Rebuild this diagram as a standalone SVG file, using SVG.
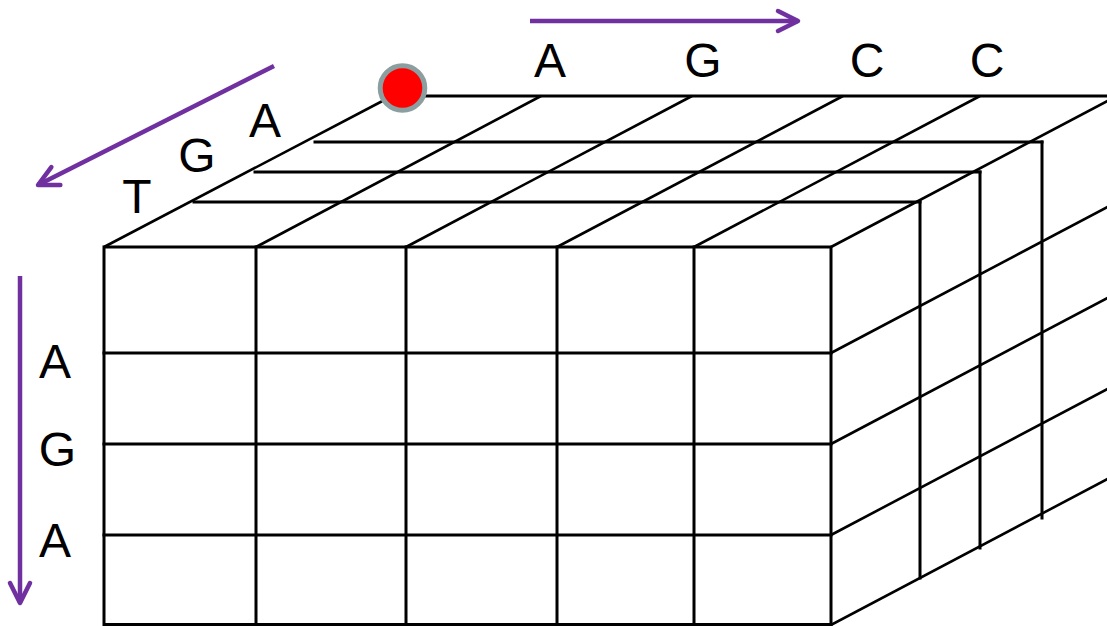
<svg xmlns="http://www.w3.org/2000/svg" width="1107" height="626" viewBox="0 0 1107 626">
  <style>
    .grid { stroke: #000; stroke-width: 3; fill: none; stroke-linecap: square; }
    .slant { stroke: #000; stroke-width: 2.6; fill: none; }
    .dir { stroke: #7030A0; stroke-width: 4.5; fill: none; }
    .base { font-family: "Liberation Sans", Arial, sans-serif; font-size: 48px; fill: #000; text-anchor: middle; }
  </style>
  <defs>
    <marker id="chevron" markerUnits="userSpaceOnUse" markerWidth="30" markerHeight="30" viewBox="-26 -15 30 30" refX="0" refY="0" orient="auto" overflow="visible">
      <path d="M-20,-10 L0,0 L-20,10" fill="none" stroke="#7030A0" stroke-width="4.5" stroke-linecap="round" stroke-linejoin="round"/>
    </marker>
  </defs>

  <rect width="1107" height="626" fill="#fff"/>

  <!-- top face: depth layers and receding edges -->
  <g id="top-face">
    <line class="grid" x1="392" y1="96" x2="1107" y2="96"/>
    <line class="grid" x1="315" y1="142" x2="1042" y2="142"/>
    <line class="grid" x1="255" y1="172" x2="980" y2="172"/>
    <line class="grid" x1="194" y1="202" x2="920" y2="202"/>
    <line class="slant" x1="104" y1="247" x2="392" y2="96"/>
    <line class="slant" x1="256" y1="247" x2="541" y2="96"/>
    <line class="slant" x1="406" y1="247" x2="692" y2="96"/>
    <line class="slant" x1="557" y1="247" x2="843" y2="96"/>
    <line class="slant" x1="694" y1="247" x2="980" y2="96"/>
  </g>

  <!-- right side face -->
  <g id="side-face">
    <line class="grid" x1="920" y1="202" x2="920" y2="578"/>
    <line class="grid" x1="980" y1="172" x2="980" y2="548"/>
    <line class="grid" x1="1042" y1="142" x2="1042" y2="518"/>
    <line class="slant" x1="831" y1="247" x2="1117" y2="96"/>
    <line class="slant" x1="831" y1="353" x2="1117" y2="202"/>
    <line class="slant" x1="831" y1="444" x2="1117" y2="293"/>
    <line class="slant" x1="831" y1="535" x2="1117" y2="384"/>
    <line class="slant" x1="831" y1="625" x2="1117" y2="474"/>
  </g>

  <!-- front face grid -->
  <g id="front-face">
    <rect class="grid" x="104" y="247" width="727" height="377.5"/>
    <line class="grid" x1="256" y1="247" x2="256" y2="624"/>
    <line class="grid" x1="406" y1="247" x2="406" y2="624"/>
    <line class="grid" x1="557" y1="247" x2="557" y2="624"/>
    <line class="grid" x1="694" y1="247" x2="694" y2="624"/>
    <line class="grid" x1="104" y1="353" x2="831" y2="353"/>
    <line class="grid" x1="104" y1="444" x2="831" y2="444"/>
    <line class="grid" x1="104" y1="535" x2="831" y2="535"/>
  </g>

  <!-- origin cell marker -->
  <g id="start-marker">
    <circle cx="402.5" cy="88" r="22.3" fill="#FF0000" stroke="#8C9FA0" stroke-width="5"/>
  </g>

  <!-- sequence letters -->
  <g id="labels">
    <text class="base" x="550" y="77">A</text>
    <text class="base" x="703" y="77">G</text>
    <text class="base" x="867" y="77">C</text>
    <text class="base" x="987" y="77">C</text>
    <text class="base" x="137" y="213">T</text>
    <text class="base" x="197" y="172">G</text>
    <text class="base" x="265" y="137">A</text>
    <text class="base" x="55" y="378">A</text>
    <text class="base" x="57.5" y="466">G</text>
    <text class="base" x="55" y="557">A</text>
  </g>

  <!-- reading direction arrows -->
  <g id="connectors">
    <line class="dir" x1="530" y1="21" x2="798" y2="21" marker-end="url(#chevron)"/>
    <line class="dir" x1="274" y1="66" x2="38" y2="185" marker-end="url(#chevron)"/>
    <line class="dir" x1="20" y1="276" x2="20" y2="603" marker-end="url(#chevron)"/>
  </g>
</svg>
